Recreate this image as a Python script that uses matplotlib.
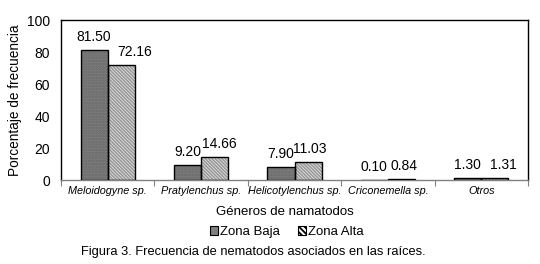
import matplotlib
matplotlib.use("Agg")
import matplotlib.pyplot as plt
from matplotlib.patches import Patch
import numpy as np

plt.rcParams['font.family'] = ['Liberation Sans', 'DejaVu Sans']
plt.rcParams['hatch.linewidth'] = 1.3

categories = ["Meloidogyne sp.", "Pratylenchus sp.", "Helicotylenchus sp.", "Criconemella sp.", "Otros"]
zona_baja = [81.50, 9.20, 7.90, 0.10, 1.30]
zona_alta = [72.16, 14.66, 11.03, 0.84, 1.31]
series_names = ["Zona Baja", "Zona Alta"]
yticks = [0, 20, 40, 60, 80, 100]

fig = plt.figure(figsize=(5.4, 2.64), dpi=100)
ax = fig.add_axes([61/540, 1-180/264, (528-61)/540, 160/264])

x = np.arange(len(categories))
w = 0.29

hatch_alta = '\\' * 10

# fills with patterns
ax.bar(x - w/2, zona_baja, w, align='center', facecolor='#808080', edgecolor='#666666',
       hatch='......', linewidth=0, zorder=2)
ax.bar(x + w/2, zona_alta, w, align='center', facecolor='white', edgecolor='#9a9a9a',
       hatch=hatch_alta, linewidth=0, zorder=2)
# outlines
ax.bar(x - w/2, zona_baja, w, align='center', fill=False, edgecolor='black', linewidth=1, zorder=3)
ax.bar(x + w/2, zona_alta, w, align='center', fill=False, edgecolor='black', linewidth=1, zorder=3)

# value labels
dx_alta = [13, 5, 2, 3, 9]
for i, v in enumerate(zona_baja):
    ax.annotate(f"{v:.2f}", (x[i] - w/2, v), xytext=(0, 6), textcoords='offset pixels',
                ha='center', va='bottom', fontsize=10)
for i, v in enumerate(zona_alta):
    ax.annotate(f"{v:.2f}", (x[i] + w/2, v), xytext=(dx_alta[i], 6), textcoords='offset pixels',
                ha='center', va='bottom', fontsize=10)

ax.set_xlim(-0.5, len(categories) - 0.5)
ax.set_ylim(0, 100)
ax.set_yticks(yticks)
ax.set_yticklabels([str(t) for t in yticks], fontsize=10)
ax.tick_params(axis='y', length=0, pad=8)

ax.set_xticks(np.arange(len(categories) + 1) - 0.5)
ax.set_xticklabels([])
ax.tick_params(axis='x', which='major', length=4, color='#808080', direction='out')
ax.set_xticks(x, minor=True)
ax.set_xticklabels(categories, minor=True, fontsize=7.8, style='italic')
ax.tick_params(axis='x', which='minor', length=0, pad=4)

for s in ['left', 'top', 'right']:
    ax.spines[s].set_color('black')
    ax.spines[s].set_linewidth(1)
ax.spines['bottom'].set_color('#808080')
ax.spines['bottom'].set_linewidth(1)

ax.set_ylabel("Porcentaje de frecuencia", fontsize=9.8, va='center')
ax.yaxis.set_label_coords((15 - 61) / 467, 0.5)

fig.text(285/540, 1-212/264, "Géneros de namatodos", ha='center', va='center', fontsize=9.5)

handles = [
    Patch(facecolor='#808080', edgecolor='black', linewidth=0.8),
    Patch(facecolor='white', edgecolor='black', hatch='\\\\\\\\\\\\', linewidth=0.8),
]
fig.legend(handles, series_names, loc='center', bbox_to_anchor=(287/540, 1-232/264), ncol=2,
           frameon=False, fontsize=9.5, handlelength=0.6, handleheight=0.6,
           handletextpad=0.15, columnspacing=1.4, borderpad=0, borderaxespad=0)

fig.text(253/540, 1-252/264, "Figura 3. Frecuencia de nematodos asociados en las raíces.",
         ha='center', va='center', fontsize=9.3)

fig.savefig("out.png", dpi=100)
